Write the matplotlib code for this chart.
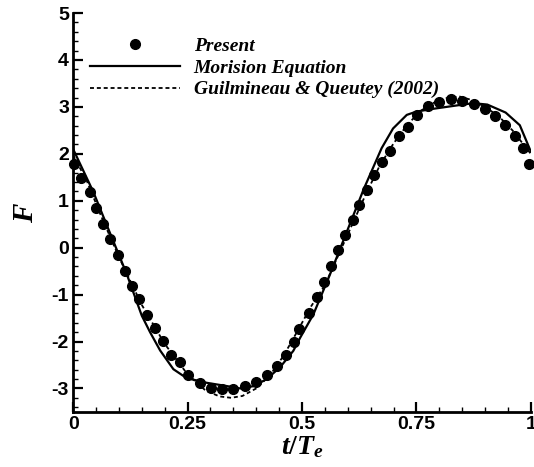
import numpy as np
import matplotlib
matplotlib.use("Agg")
import matplotlib.pyplot as plt
from matplotlib.ticker import MultipleLocator

# Present (CFD) results
present_t = [0.001, 0.017, 0.036, 0.050, 0.065, 0.081, 0.098, 0.114, 0.129, 0.144,
             0.162, 0.179, 0.196, 0.213, 0.234, 0.252, 0.278, 0.301, 0.326, 0.350,
             0.376, 0.399, 0.423, 0.445, 0.465, 0.483, 0.494, 0.516, 0.532, 0.548,
             0.563, 0.578, 0.594, 0.611, 0.625, 0.641, 0.658, 0.675, 0.692, 0.712,
             0.732, 0.752, 0.776, 0.800, 0.825, 0.850, 0.875, 0.900, 0.921, 0.943,
             0.965, 0.983, 0.997]
present_F = [1.79, 1.49, 1.18, 0.85, 0.51, 0.19, -0.15, -0.49, -0.81, -1.10,
             -1.43, -1.72, -1.99, -2.29, -2.44, -2.71, -2.89, -2.99, -3.02, -3.02,
             -2.95, -2.86, -2.71, -2.53, -2.29, -2.00, -1.73, -1.39, -1.05, -0.73,
             -0.39, -0.06, 0.28, 0.60, 0.92, 1.22, 1.54, 1.82, 2.06, 2.37,
             2.58, 2.83, 3.02, 3.10, 3.16, 3.13, 3.07, 2.96, 2.81, 2.61,
             2.39, 2.12, 1.79]

# Morison equation
morison_t = [0.0, 0.044, 0.081, 0.117, 0.150, 0.168, 0.190, 0.219, 0.248, 0.292,
             0.336, 0.365, 0.395, 0.423, 0.452, 0.481, 0.496, 0.525, 0.560, 0.598,
             0.635, 0.674, 0.699, 0.729, 0.750, 0.787, 0.830, 0.874, 0.905, 0.945,
             0.976, 1.0]
morison_F = [2.10, 1.19, 0.30, -0.56, -1.45, -1.80, -2.19, -2.59, -2.78, -2.88,
             -2.95, -3.00, -2.95, -2.80, -2.55, -2.20, -1.92, -1.42, -0.60, 0.34,
             1.25, 2.12, 2.54, 2.83, 2.90, 2.96, 3.02, 3.08, 3.05, 2.88,
             2.61, 2.05]

# Guilmineau & Queutey (2002)
gq_t = [0.0, 0.03, 0.06, 0.10, 0.15, 0.20, 0.25, 0.29, 0.32, 0.345, 0.37, 0.40,
        0.43, 0.46, 0.49, 0.52, 0.55, 0.58, 0.61, 0.64, 0.67, 0.70, 0.73, 0.76,
        0.79, 0.82, 0.845, 0.87, 0.90, 0.93, 0.96, 0.98, 1.0]
gq_F = [1.97, 1.42, 0.70, -0.20, -1.22, -2.05, -2.70, -3.05, -3.17, -3.20, -3.16, -3.00,
        -2.72, -2.30, -1.78, -1.25, -0.80, -0.15, 0.50, 1.15, 1.75, 2.22, 2.62, 2.92,
        3.10, 3.20, 3.22, 3.15, 3.00, 2.80, 2.50, 2.25, 2.00]

plt.rcParams["font.family"] = "Liberation Sans"
plt.rcParams["font.weight"] = "bold"
plt.rcParams["axes.unicode_minus"] = False
plt.rcParams["mathtext.fontset"] = "custom"
plt.rcParams["mathtext.it"] = "Liberation Serif:italic:bold"
plt.rcParams["mathtext.rm"] = "Liberation Serif:bold"
plt.rcParams["mathtext.bf"] = "Liberation Serif:italic:bold"

fig = plt.figure(figsize=(5.34, 4.67), dpi=100)
ax = fig.add_axes([0.137, 0.118, 0.857, 0.854])

ax.plot(present_t, present_F, "o", color="black", markersize=7,
        clip_on=False, label="Present", zorder=3)
ax.plot(morison_t, morison_F, "-", color="black", linewidth=1.6,
        label="Morision Equation")
ax.plot(gq_t, gq_F, color="black", linewidth=1.3, dashes=(2.2, 1.6),
        label="Guilmineau & Queutey (2002)")

ax.set_xlim(0, 1)
ax.set_ylim(-3.5, 5)
ax.spines["top"].set_visible(False)
ax.spines["right"].set_visible(False)
for s in ("left", "bottom"):
    ax.spines[s].set_linewidth(2.0)

ax.xaxis.set_major_locator(MultipleLocator(0.25))
ax.xaxis.set_minor_locator(MultipleLocator(0.05))
ax.yaxis.set_major_locator(MultipleLocator(1))
ax.yaxis.set_minor_locator(MultipleLocator(0.2))
ax.set_xticks([0, 0.25, 0.5, 0.75, 1])
ax.set_xticklabels(["0", "0.25", "0.5", "0.75", "1"])
ax.tick_params(which="major", direction="in", length=7, width=1.6,
               labelsize=14, pad=3)
ax.tick_params(which="minor", direction="in", length=3.6, width=1.0)

ax.set_xlabel(r"$t/T_e$", fontsize=20, labelpad=1)
ax.set_ylabel(r"$F$", fontsize=21, labelpad=9)

leg = ax.legend(loc="upper left", bbox_to_anchor=(0.037, 0.94), frameon=False,
                borderpad=0, borderaxespad=0, handlelength=4.6,
                handletextpad=0.72, labelspacing=0.22, numpoints=1,
                prop={"family": "Liberation Serif", "weight": "bold",
                      "style": "italic", "size": 14})

fig.savefig("out.png", dpi=100)
